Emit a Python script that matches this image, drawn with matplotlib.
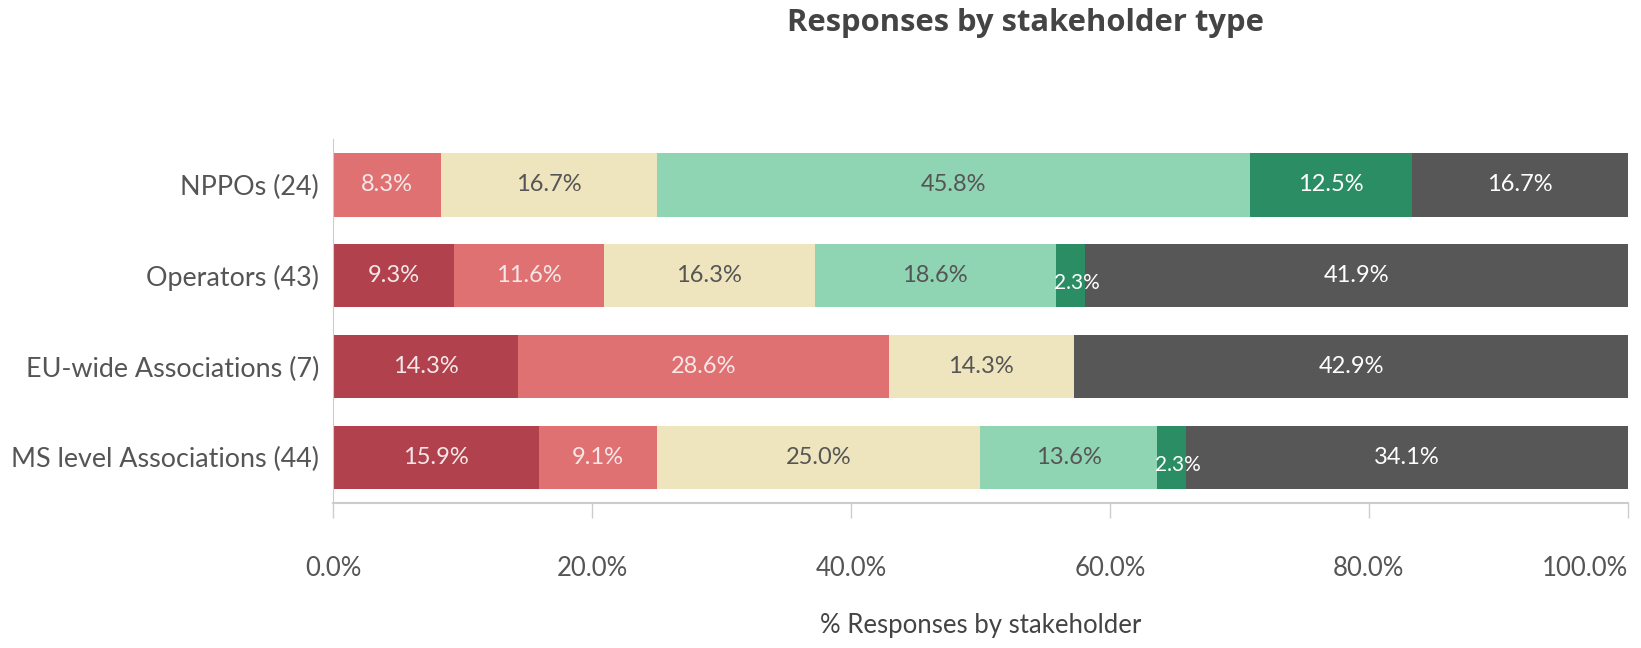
import matplotlib
matplotlib.use("Agg")
import matplotlib.pyplot as plt
import numpy as np

categories = ["NPPOs (24)", "Operators (43)", "EU-wide Associations (7)", "MS level Associations (44)"]
series_names = ["Level 1", "Level 2", "Level 3", "Level 4", "Level 5", "No answer"]
values = {
    "Level 1":   [0.0, 9.3, 14.3, 15.9],
    "Level 2":   [8.3, 11.6, 28.6, 9.1],
    "Level 3":   [16.7, 16.3, 14.3, 25.0],
    "Level 4":   [45.8, 18.6, 0.0, 13.6],
    "Level 5":   [12.5, 2.3, 0.0, 2.3],
    "No answer": [16.7, 41.9, 42.9, 34.1],
}
xticks = [0, 20, 40, 60, 80, 100]
xtick_labels = ["0.0%", "20.0%", "40.0%", "60.0%", "80.0%", "100.0%"]

colors = ["#b1414d", "#e07173", "#eee4bd", "#8fd4b3", "#2b8d63", "#575757"]
text_colors = ["#f6e8e8", "#f6e8e8", "#555555", "#555555", "#ffffff", "#ffffff"]

FONT = ['Lato', 'DejaVu Sans']
plt.rcParams['font.family'] = FONT

fig = plt.figure(figsize=(16.41, 6.48), dpi=100)
ax = fig.add_axes([0.203, 0.224, 0.789, 0.561])

y = np.arange(len(categories))
left = np.zeros(len(categories))
for i, name in enumerate(series_names):
    vals = np.array(values[name])
    ax.barh(y, vals, left=left, height=0.7, color=colors[i], edgecolor='none')
    for j, v in enumerate(vals):
        if v <= 0:
            continue
        if v < 5:
            ax.text(left[j] - 0.1, y[j] + 0.08, f"{v:.1f}%", ha='left', va='center',
                    color=text_colors[i], fontsize=15)
        else:
            ax.text(left[j] + v / 2, y[j], f"{v:.1f}%", ha='center', va='center',
                    color=text_colors[i], fontsize=17)
    left += vals

ax.set_xlim(0, 100)
ax.set_ylim(3.5, -0.5)
ax.set_yticks(y)
ax.set_yticklabels(categories, fontsize=19.4, color="#555555")
ax.tick_params(axis='y', length=0, pad=10)
ax.set_xticks(xticks)
ax.set_xticklabels(xtick_labels, fontsize=18.5, color="#555555")
ax.get_xticklabels()[-1].set_horizontalalignment('right')
ax.tick_params(axis='x', length=11, width=1, color="#cccccc", pad=27.5, direction='out')

for s in ['top', 'right']:
    ax.spines[s].set_visible(False)
ax.spines['left'].set_color("#cccccc")
ax.spines['bottom'].set_color("#cccccc")
ax.spines['bottom'].set_linewidth(1.5)

ax.set_xlabel("% Responses by stakeholder", fontsize=18.5, color="#444444", labelpad=23)
fig.text(0.625, 0.965, "Responses by stakeholder type", ha='center', va='center',
         fontsize=22.3, fontweight='bold', color="#444444", family=['Open Sans', 'DejaVu Sans'])

fig.savefig("out.png", dpi=100)
